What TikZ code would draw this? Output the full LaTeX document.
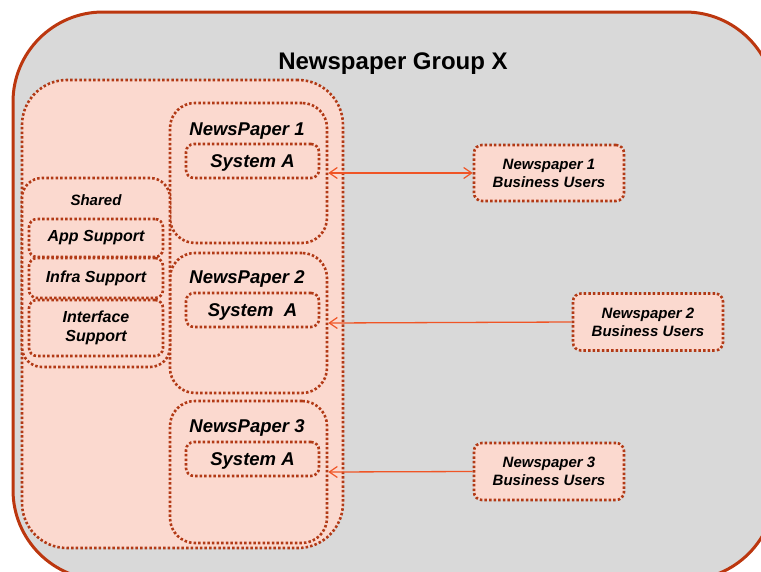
\documentclass[tikz,border=0pt]{standalone}
\usepackage{fontspec}
\setmainfont{Liberation Sans}
\usetikzlibrary{arrows.meta}
\definecolor{outerfill}{RGB}{217,217,217}
\definecolor{outerline}{RGB}{188,55,15}
\definecolor{pinkfill}{RGB}{251,217,207}
\definecolor{dotline}{RGB}{178,58,22}
\definecolor{arrowcol}{RGB}{240,85,38}
\begin{document}
\begin{tikzpicture}[x=1pt,y=-1pt,
  dotbox/.style={draw=dotline, fill=pinkfill, line width=2.6pt, dash pattern=on 2.5pt off 2.1pt, rectangle, inner sep=0pt},
  npbox/.style={dotbox, rounded corners=25pt, minimum width=157pt},
  sysbox/.style={dotbox, rounded corners=8pt, minimum width=133pt, minimum height=34pt, text depth=0pt, font=\bfseries\itshape\fontsize{18.5}{22}\selectfont},
  supbox/.style={dotbox, rounded corners=8pt, minimum width=134pt, align=center, font=\bfseries\itshape\fontsize{16}{19}\selectfont},
  userbox/.style={dotbox, rounded corners=8pt, minimum width=150pt, align=center, font=\bfseries\itshape\fontsize{15}{18}\selectfont},
  nptitle/.style={font=\bfseries\itshape\fontsize{18.5}{22}\selectfont, inner sep=0pt, text depth=0pt},
  arr/.style={draw=arrowcol, line width=1.3pt},
  tip/.tip={Straight Barb[length=8pt, width=11pt, line width=1.2pt]}
]
\clip (0,0) rectangle (761,571);
\useasboundingbox (0,0) rectangle (761,571);
% outer group
\node[draw=outerline, fill=outerfill, line width=3pt, rounded corners=90pt, minimum width=762pt, minimum height=568pt, inner sep=0pt] (outer) at (394,296) {};
\node[font=\bfseries\fontsize{24}{28}\selectfont, inner sep=0pt, text depth=0pt] (title) at (393,61) {Newspaper Group X};
% pink group
\node[dotbox, rounded corners=45pt, minimum width=321pt, minimum height=468pt] (group) at (182.5,314) {};
% newspaper boxes
\node[npbox, minimum height=140pt] (np1) at (248.5,173) {};
\node[npbox, minimum height=140pt] (np2) at (248.5,323) {};
\node[npbox, minimum height=142pt] (np3) at (248.5,472) {};
\node[nptitle] (np1t) at (247,129) {NewsPaper 1};
\node[nptitle] (np2t) at (247,277) {NewsPaper 2};
\node[nptitle] (np3t) at (247,426) {NewsPaper 3};
\node[sysbox] (sa1) at (252.5,161) {System A};
\node[sysbox] (sa2) at (252.5,310) {System\ \ A};
\node[sysbox] (sa3) at (252.5,459) {System A};
% shared
\node[dotbox, rounded corners=20pt, minimum width=148pt, minimum height=189pt] (shared) at (96,272.5) {};
\node[font=\bfseries\itshape\fontsize{15}{18}\selectfont, inner sep=0pt, text depth=0pt] (sharedt) at (96,200) {Shared};
\node[supbox, minimum height=38pt] (app) at (96,238) {App Support};
\node[supbox, minimum height=40pt] (infra) at (96,278) {Infra Support};
\node[supbox, minimum height=56pt] (iface) at (96,328) {Interface\\Support};
% users
\node[userbox, minimum height=56pt] (u1) at (549,173) {Newspaper 1\\Business Users};
\node[userbox, minimum height=57pt] (u2) at (648,322) {Newspaper 2\\Business Users};
\node[userbox, minimum height=57pt] (u3) at (549,471.5) {Newspaper 3\\Business Users};
% arrows
\draw[arr, tip-tip] (np1.east) -- (u1.west);
\draw[arr, -tip] (u2.west) -- (np2.east);
\draw[arr, -tip] (u3.west) -- (np3.east);
\end{tikzpicture}
\end{document}
